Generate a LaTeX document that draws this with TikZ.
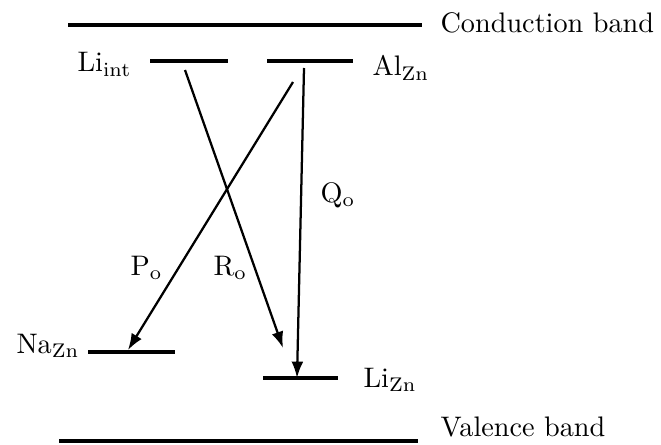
\documentclass[tikz,border=0pt]{standalone}
\usepackage{amsmath}
\usepackage{tikz}
\usetikzlibrary{arrows.meta}

\begin{document}
\begin{tikzpicture}[x=0.354pt,y=-0.354pt,>={Latex[length=5.8pt,width=4.2pt]},
    band/.style={line width=1.3pt},
    level/.style={line width=1.1pt},
    trans/.style={->,line width=0.8pt},
    lbl/.style={inner sep=0pt,anchor=base west}]
  \useasboundingbox (0,0) rectangle (661,444);
  % bands
  \draw[band] (68,25) -- (422,25);
  \draw[band] (59,441) -- (418,441);
  \node[lbl] (cb) at (440,33) {Conduction band};
  \node[lbl] (vb) at (440,436) {Valence band};
  % defect levels
  \draw[level] (150,61) -- (228,61);
  \draw[level] (267,61) -- (353,61);
  \draw[level] (88,352) -- (175,352);
  \draw[level] (263,378) -- (338,378);
  \node[lbl] (liint) at (77,72) {Li$_{\mathrm{int}}$};
  \node[lbl] (alzn) at (372,76) {Al$_{\mathrm{Zn}}$};
  \node[inner sep=0pt,anchor=base east] (nazn) at (80,353) {Na$_{\mathrm{Zn}}$};
  \node[lbl] (lizn) at (363,387) {Li$_{\mathrm{Zn}}$};
  % transitions
  \coordinate (rs) at (185,70);
  \coordinate (re) at (283,348);
  \coordinate (ps) at (293,82);
  \coordinate (pe) at (128,350);
  \coordinate (qs) at (304,68);
  \coordinate (qe) at (297,378);
  \draw[trans] (rs) -- (re);
  \draw[trans] (ps) -- (pe);
  \draw[trans] (qs) -- (qe);
  \node[lbl] (po) at (130,275) {P$_{\mathrm{o}}$};
  \node[lbl] (ro) at (213,275) {R$_{\mathrm{o}}$};
  \node[lbl] (qo) at (320,202) {Q$_{\mathrm{o}}$};
\end{tikzpicture}
\end{document}
